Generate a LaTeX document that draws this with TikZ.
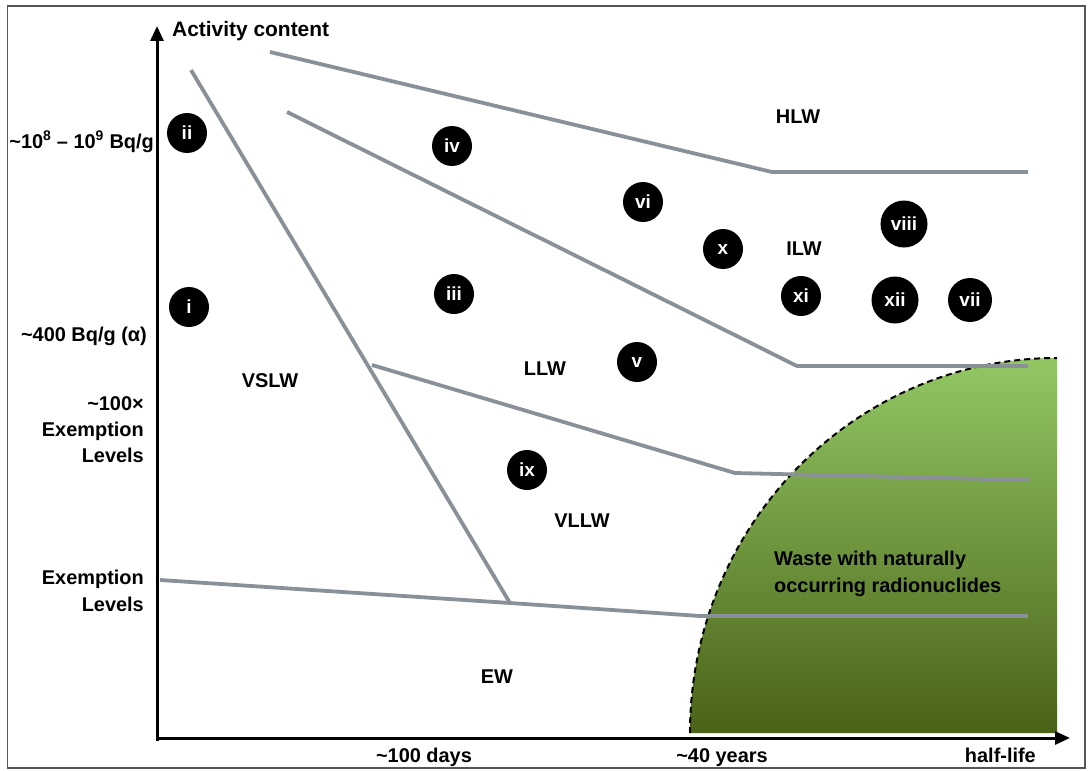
\documentclass[tikz,border=0pt]{standalone}
\usepackage{fontspec}
\setmainfont{Liberation Sans}
\usetikzlibrary{arrows.meta}
\definecolor{linegray}{HTML}{8A9098}
\definecolor{greentop}{HTML}{93C764}
\definecolor{greenmid}{HTML}{74A443}
\definecolor{greenbot}{HTML}{4A6218}
\definecolor{framegray}{HTML}{555555}
\begin{document}
\begin{tikzpicture}[x=1bp,y=-1bp,
  every node/.style={inner sep=0pt, font=\fontsize{20}{26.5}\selectfont\bfseries},
  lab/.style={text=black},
  zone/.style={text=black, anchor=center},
  num/.style={circle, fill=black, text=white, minimum size=40bp, inner sep=0pt, font=\fontsize{19}{22}\selectfont\bfseries},
  bignum/.style={num, minimum size=47bp},
  midnum/.style={num, minimum size=44bp},
  border/.style={linegray, line width=3.8bp, line join=round},
  axis/.style={black, line width=3bp, -{Triangle[length=15bp,width=13bp]}}
]
\useasboundingbox (0,0) rectangle (1088,771);
\draw[framegray, line width=1.5bp] (7.5,6) rectangle (1085,768);

% green region
\shade[top color=greentop, middle color=greenmid, bottom color=greenbot]
  (690,733) arc[start angle=180, end angle=270, x radius=367, y radius=375]
  -- (1057,733) -- cycle;
\draw[black, line width=2bp, dash pattern=on 6bp off 4bp]
  (690,733) arc[start angle=180, end angle=270, x radius=367, y radius=375];

% boundary coordinates
\coordinate (s1) at (191,70);
\coordinate (s2) at (510,603);
\coordinate (h1) at (270,52);
\coordinate (h2) at (772,172);
\coordinate (h3) at (1028,172);
\coordinate (i1) at (287,112);
\coordinate (i2) at (797,366);
\coordinate (i3) at (1028,366);
\coordinate (l1) at (372,365);
\coordinate (l2) at (735,473);
\coordinate (l3) at (1029,480);
\coordinate (e1) at (160,580);
\coordinate (e2) at (700,616);
\coordinate (e3) at (1028,616);

\draw[border] (s1) -- (s2);
\draw[border] (h1) -- (h2) -- (h3);
\draw[border] (i1) -- (i2) -- (i3);
\draw[border] (l1) -- (l2) -- (l3);
\draw[border] (e1) -- (s2) -- (e2) -- (e3);

% axes
\coordinate (o) at (157,738);
\coordinate (ytip) at (157,26);
\coordinate (xtip) at (1070,738);
\draw[axis] (157,741) -- (ytip);
\draw[axis] (o) -- (xtip);

% axis labels
\node[lab, anchor=base west, font=\fontsize{21}{26}\selectfont\bfseries] (act) at (172,37) {Activity content};
\node[lab, anchor=base east] (hi) at (154,148) {\textasciitilde10\textsuperscript{8} – 10\textsuperscript{9} Bq/g};
\node[lab, anchor=base east] (alpha) at (147,341) {\textasciitilde400 Bq/g (α)};
\node[lab, anchor=north east, align=right] (hex) at (144,396) {\textasciitilde100×\\Exemption\\Levels};
\node[lab, anchor=north east, align=right] (ex) at (144,570) {Exemption\\Levels};
\node[lab, anchor=base] (days) at (424,762) {\textasciitilde100 days};
\node[lab, anchor=base] (years) at (722,762) {\textasciitilde40 years};
\node[lab, anchor=base east] (hl) at (1036,762) {half-life};

% zone labels
\node[zone] (HLW) at (798,117) {HLW};
\node[zone] (ILW) at (804,249) {ILW};
\node[zone] (LLW) at (545,369) {LLW};
\node[zone] (VSLW) at (270,381) {VSLW};
\node[zone] (VLLW) at (582,521) {VLLW};
\node[zone] (EW) at (497,677) {EW};
\node[lab, anchor=north west, align=left] (nat) at (774,551) {Waste with naturally\\occurring radionuclides};

% numbered circles
\node[num] (c2) at (187,133) {ii};
\node[num] (c1) at (189,307) {i};
\node[num] (c4) at (452,146) {iv};
\node[num] (c3) at (454,294) {iii};
\node[num] (c6) at (643,202) {vi};
\node[num] (c10) at (723,249) {x};
\node[bignum] (c8) at (904,224) {viii};
\node[num] (c11) at (801,296) {xi};
\node[bignum] (c12) at (895,300) {xii};
\node[midnum] (c7) at (970,300) {vii};
\node[num] (c5) at (637,362) {v};
\node[num] (c9) at (527,470) {ix};
\end{tikzpicture}
\end{document}
